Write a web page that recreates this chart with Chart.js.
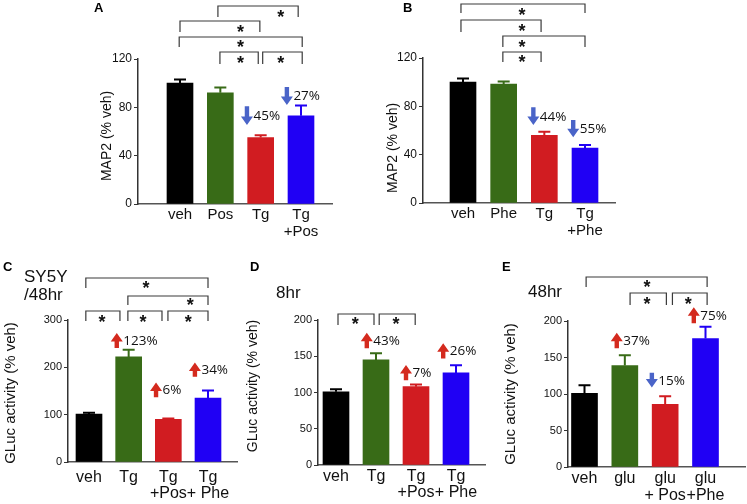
<!DOCTYPE html>
<html>
<head>
<meta charset="utf-8">
<script src="https://cdn.jsdelivr.net/npm/chart.js@4.4.1/dist/chart.umd.min.js"></script>
<style>
  body { margin: 0; background: #fff; }
  #wrap { position: relative; width: 747px; height: 504px; }
  canvas { position: absolute; left: 0; top: 0; }
</style>
</head>
<body>
<div id="wrap">
  <canvas id="chartA" width="747" height="504"></canvas>
  <canvas id="chartB" width="747" height="504"></canvas>
  <canvas id="chartC" width="747" height="504"></canvas>
  <canvas id="chartD" width="747" height="504"></canvas>
  <canvas id="chartE" width="747" height="504"></canvas>
</div>
<script>
// ---- data ----
// A: MAP2, posiphen
const catA = ['veh', 'Pos', 'Tg', ['Tg', '+Pos']];
const meanA = [100, 92, 55, 73];
const semA = [3, 4.5, 2, 8.5];
const changeA = [null, null, -45, -27];

// B: MAP2, phenserine
const catB = ['veh', 'Phe', 'Tg', ['Tg', '+Phe']];
const meanB = [100, 98.5, 56, 45.5];
const semB = [3, 2, 3, 2.5];
const changeB = [null, null, -44, -55];

// C: GLuc SY5Y 48hr
const catC = ['veh', 'Tg', ['Tg', '+Pos'], ['Tg', '+ Phe']];
const meanC = [101, 222, 90, 135];
const semC = [3, 15, 2, 16];
const changeC = [null, 123, 6, 34];

// D: GLuc 8hr
const catD = ['veh', 'Tg', ['Tg', '+Pos'], ['Tg', '+ Phe']];
const meanD = [101, 145, 108, 127];
const semD = [3.5, 9, 3, 10.5];
const changeD = [null, 43, 7, 26];

// E: GLuc 48hr glutamate
const catE = ['veh', 'glu', ['glu', '+ Pos'], ['glu', '+Phe']];
const meanE = [101, 139, 86, 176];
const semE = [11, 14, 11, 16];
const changeE = [null, 37, -15, 75];

const yTicksAB = { max: 120, step: 40 };
const yTicksC = { max: 300, step: 100 };
const yTicksDE = { max: 200, step: 50 };

// ---- styles ----
const barColors = ['#000000', '#386b17', '#d11c21', '#2000f4'];
const upColor = '#d42a1e';
const downColor = '#4a64c8';
const FONT = "'Liberation Sans', Arial, sans-serif";
const PCT_FONT = "'Open Sans', 'Liberation Sans', sans-serif";

// panel layout (pixel frame + annotation placement)
const panels = [
  {
    id: 'chartA', letter: 'A', letterPos: [94, 8], cats: catA, mean: meanA, sem: semA, change: changeA,
    yr: yTicksAB, yTitle: 'MAP2 (% veh)', yTitlePos: [107, 136, 14],
    box: { axisX: 138, top: 59, bottom: 204, c1: 180, c4: 301, right: 332 },
    xFont: 15, xLine: 1.1, xPad: 3, yFont: 12,
    brackets: [
      [1.94, 3.93, 6, 17, 3.5, 13],
      [1.0, 2.98, 21, 32, 2.5, 28],
      [0.98, 4.03, 37, 47, 2.5, 43],
      [1.99, 2.94, 52, 64, 2.5, 59],
      [3.05, 4.03, 52, 64, 3.5, 59]
    ],
    arrows: [[2, 2.66, 81, 65.4], [3, 3.65, 96.8, 82]]
  },
  {
    id: 'chartB', letter: 'B', letterPos: [403, 8], cats: catB, mean: meanB, sem: semB, change: changeB,
    yr: yTicksAB, yTitle: 'MAP2 (% veh)', yTitlePos: [393, 148, 14],
    box: { axisX: 423, top: 58, bottom: 203, c1: 463, c4: 585, right: 615 },
    xFont: 15, xLine: 1.1, xPad: 3, yFont: 12,
    brackets: [
      [0.95, 4.0, 4, 13, 2.45, 11],
      [0.95, 2.92, 20, 32, 2.45, 27],
      [1.98, 4.0, 36, 47, 2.45, 43],
      [1.98, 2.92, 52, 62, 2.45, 58]
    ],
    arrows: [[2, 2.73, 79.2, 64.6], [3, 3.71, 68.7, 54.4]]
  },
  {
    id: 'chartC', letter: 'C', letterPos: [3, 267], cats: catC, mean: meanC, sem: semC, change: changeC,
    yr: yTicksC, yTitle: 'GLuc activity (% veh)', yTitlePos: [11, 393, 15],
    sub: [['SY5Y', 24, 277], ['/48hr', 24, 295]],
    box: { axisX: 68, top: 320, bottom: 462, c1: 89, c4: 208, right: 237 },
    xFont: 16, xLine: 1.0, xPad: 8, yFont: 11,
    brackets: [
      [0.92, 4.0, 278, 288, 2.44, 284],
      [1.98, 4.0, 296, 305, 3.55, 301],
      [0.92, 1.78, 311, 321, 1.33, 318],
      [1.98, 2.84, 311, 321, 2.36, 318],
      [2.99, 4.0, 311, 321, 3.5, 318]
    ],
    arrows: [[1, 1.70, 241, 272.6], [2, 2.69, 136.6, 168], [3, 3.67, 180, 210]]
  },
  {
    id: 'chartD', letter: 'D', letterPos: [250, 267], cats: catD, mean: meanD, sem: semD, change: changeD,
    yr: yTicksDE, yTitle: 'GLuc activity (% veh)', yTitlePos: [253, 386, 14],
    sub: [['8hr', 276, 293]],
    box: { axisX: 318, top: 320, bottom: 465, c1: 336, c4: 456, right: 485 },
    xFont: 16, xLine: 1.0, xPad: 4, yFont: 11,
    brackets: [
      [1.05, 1.95, 314, 325, 1.48, 320],
      [2.08, 2.98, 314, 325, 2.5, 320]
    ],
    arrows: [[1, 1.77, 161, 182.5], [2, 2.75, 117, 138], [3, 3.68, 147, 168]]
  },
  {
    id: 'chartE', letter: 'E', letterPos: [502, 267], cats: catE, mean: meanE, sem: semE, change: changeE,
    yr: yTicksDE, yTitle: 'GLuc activity (% veh)', yTitlePos: [511, 394, 15],
    sub: [['48hr', 528, 292]],
    box: { axisX: 568, top: 321, bottom: 467, c1: 584.5, c4: 705.5, right: 745 },
    xFont: 16, xLine: 1.05, xPad: 3, yFont: 11,
    brackets: [
      [1.04, 4.04, 277, 287, 2.55, 283],
      [2.13, 3.03, 293, 305, 2.55, 300],
      [3.18, 4.04, 293, 305, 3.57, 300]
    ],
    arrows: [[1, 1.80, 162.6, 184], [2, 2.67, 129, 109], [3, 3.71, 197, 219]]
  }
];

function drawArrow(ctx, x, yTail, yTip, color) {
  const dir = yTip < yTail ? -1 : 1;
  const head = 8.5, hw = 6, sw = 2.2;
  const yBase = yTip - dir * head;
  ctx.fillStyle = color;
  ctx.beginPath();
  ctx.moveTo(x - sw, yTail);
  ctx.lineTo(x + sw, yTail);
  ctx.lineTo(x + sw, yBase);
  ctx.lineTo(x + hw, yBase);
  ctx.lineTo(x, yTip);
  ctx.lineTo(x - hw, yBase);
  ctx.lineTo(x - sw, yBase);
  ctx.closePath();
  ctx.fill();
}

function centeredText(ctx, text, cx, cy) {
  const m = ctx.measureText(text);
  const h = m.actualBoundingBoxAscent + m.actualBoundingBoxDescent;
  ctx.textBaseline = 'alphabetic';
  ctx.fillText(text, cx, cy - h / 2 + m.actualBoundingBoxAscent);
}

function marksPlugin(p) {
  return {
    id: 'marks' + p.letter,
    afterDatasetsDraw(chart) {
      const { ctx } = chart;
      const xs = chart.scales.x, ys = chart.scales.y;
      ctx.save();

      // error bars (upper only)
      p.mean.forEach((m, i) => {
        const cx = xs.getPixelForValue(i + 1);
        const top = ys.getPixelForValue(m + p.sem[i]);
        ctx.strokeStyle = barColors[i];
        ctx.lineWidth = 2;
        ctx.beginPath();
        ctx.moveTo(cx, ys.getPixelForValue(m));
        ctx.lineTo(cx, top);
        ctx.moveTo(cx - 6, top);
        ctx.lineTo(cx + 6, top);
        ctx.stroke();
      });

      // significance brackets
      ctx.strokeStyle = '#3a3a3a';
      ctx.lineWidth = 1.2;
      ctx.fillStyle = '#111';
      ctx.font = 'bold 18px ' + FONT;
      ctx.textAlign = 'center';
      p.brackets.forEach(([a, b, top, leg, sx, sy]) => {
        const x1 = xs.getPixelForValue(a), x2 = xs.getPixelForValue(b);
        ctx.beginPath();
        ctx.moveTo(x1, leg);
        ctx.lineTo(x1, top);
        ctx.lineTo(x2, top);
        ctx.lineTo(x2, leg);
        ctx.stroke();
        centeredText(ctx, '*', xs.getPixelForValue(sx), sy);
      });

      // change arrows + percentages
      ctx.font = '13.5px ' + PCT_FONT;
      ctx.textAlign = 'left';
      p.arrows.forEach(([i, ax, tail, tip]) => {
        const c = p.change[i];
        const x = xs.getPixelForValue(ax);
        const y1 = ys.getPixelForValue(tail), y2 = ys.getPixelForValue(tip);
        drawArrow(ctx, x, y1, y2, c > 0 ? upColor : downColor);
        ctx.fillStyle = '#111';
        centeredText(ctx, Math.abs(c) + '%', x + 6.5, (y1 + y2) / 2);
      });

      // y axis title
      const [tx, ty, ts] = p.yTitlePos;
      ctx.save();
      ctx.translate(tx, ty);
      ctx.rotate(-Math.PI / 2);
      ctx.textAlign = 'center';
      ctx.textBaseline = 'middle';
      ctx.fillStyle = '#111';
      ctx.font = ts + 'px ' + FONT;
      ctx.fillText(p.yTitle, 0, 0);
      ctx.restore();

      // panel letter and subtitle
      ctx.textAlign = 'left';
      ctx.textBaseline = 'middle';
      ctx.fillStyle = '#000';
      ctx.font = 'bold 13px ' + FONT;
      ctx.fillText(p.letter, p.letterPos[0], p.letterPos[1]);
      if (p.sub) {
        ctx.font = '17px ' + FONT;
        ctx.fillStyle = '#111';
        p.sub.forEach(([t, sx, sy]) => ctx.fillText(t, sx, sy));
      }
      ctx.restore();
    }
  };
}

function makeChart(p) {
  const b = p.box;
  const unit = (b.c4 - b.c1) / 3;
  const yW = 40, xH = 45;
  new Chart(document.getElementById(p.id), {
    type: 'bar',
    data: {
      datasets: [{
        data: p.mean.map((v, i) => ({ x: i + 1, y: v })),
        backgroundColor: barColors,
        barThickness: 26,
        borderWidth: 0
      }]
    },
    options: {
      responsive: false,
      animation: false,
      events: [],
      layout: { padding: { left: b.axisX - yW, top: b.top, right: 747 - b.right, bottom: 504 - b.bottom - xH } },
      plugins: { legend: { display: false }, tooltip: { enabled: false } },
      scales: {
        x: {
          type: 'linear',
          bounds: 'data',
          offset: false,
          z: 1,
          min: 1 - (b.c1 - b.axisX) / unit,
          max: 4 + (b.right - b.c4) / unit,
          afterBuildTicks: s => { s.ticks = p.cats.map((c, i) => ({ value: i + 1 })); },
          afterFit: s => { s.height = xH; },
          grid: { display: false, offset: false, drawTicks: false },
          border: { color: '#555', width: 1.5 },
          ticks: {
            autoSkip: false, maxRotation: 0, padding: p.xPad, color: '#111',
            font: { family: FONT, size: p.xFont, lineHeight: p.xLine },
            callback: v => p.cats[v - 1]
          }
        },
        y: {
          min: 0,
          max: p.yr.max,
          afterFit: s => { s.width = yW; },
          ticks: { stepSize: p.yr.step, padding: 2, color: '#111', font: { family: FONT, size: p.yFont } },
          grid: { drawOnChartArea: false, tickLength: 4, color: '#333' },
          border: { color: '#333', width: 1.5 }
        }
      }
    },
    plugins: [marksPlugin(p)]
  });
}

panels.forEach(makeChart);
</script>
</body>
</html>
